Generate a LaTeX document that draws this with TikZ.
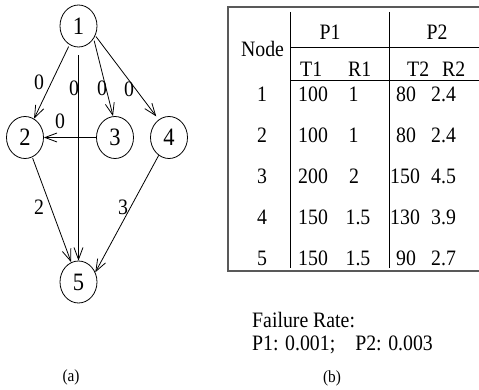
\documentclass[tikz,border=0pt]{standalone}
\usepackage{fontspec}
\setmainfont{Liberation Serif}[FakeStretch=0.9]
\usetikzlibrary{arrows.meta,shapes.geometric}

\begin{document}
\begin{tikzpicture}[x=1pt,y=-1pt,
  vert/.style={draw, ellipse, minimum width=37pt, minimum height=42pt, inner sep=0pt,
               font=\fontsize{25}{29}\selectfont, line width=0.8pt},
  edge/.style={draw, line width=0.8pt, -{Straight Barb[length=12pt,width=9pt]}},
  elabel/.style={font=\fontsize{22}{25}\selectfont, inner sep=0pt},
  cell/.style={font=\fontsize{22}{25}\selectfont, inner sep=0pt, anchor=base west},
  ccell/.style={font=\fontsize{22}{25}\selectfont, inner sep=0pt, anchor=base},
  rule/.style={line width=0.9pt},
  frame/.style={line width=1.3pt, draw=black!65},
  caption/.style={font=\fontsize{17}{20}\selectfont, inner sep=0pt}
]
\useasboundingbox (0,0) rectangle (479,390);

% ---------- (a) task graph ----------
\node[vert] (n1) at (78.5,26) {1};
\node[vert] (n2) at (25,137.5) {2};
\node[vert] (n3) at (115,137.5) {3};
\node[vert] (n4) at (169,137.5) {4};
\node[vert] (n5) at (78.5,282) {5};

\draw[edge, shorten <=2pt] (n1) -- (n2);
\draw[edge, shorten <=8pt] (n1) -- (n5);
\draw[edge, shorten <=2pt] (n1.-40) -- ([xshift=-2pt]n3.north);
\draw[edge, shorten <=1pt, shorten >=4pt] (n1.-30) -- (n4.120);
\draw[edge] (n3) -- (n2);
\draw[edge, shorten <=1pt] (n2) -- (n5);
\draw[edge] (n4.-120) -- (n5.30);

\node[elabel] (w12) at (39,82) {0};
\node[elabel] (w15) at (74,88) {0};
\node[elabel] (w13) at (102,88) {0};
\node[elabel] (w14) at (129,89) {0};
\node[elabel] (w32) at (60,121) {0};
\node[elabel] (w25) at (39,207) {2};
\node[elabel] (w45) at (123,207) {3};

\node[caption] (capa) at (71,377) {(a)};

% ---------- (b) execution table ----------
\draw[frame] (479,7) -- (228,7) -- (228,271) -- (479,271);
\draw[rule] (290,12) -- (290,268);
\draw[rule] (389,12) -- (389,268);
\draw[rule] (290,47) -- (479,47);
\draw[rule] (290,80) -- (479,80);

\node[ccell] (hnode) at (262.5,57) {Node};
\node[ccell] (hp1) at (330,40) {P1};
\node[ccell] (hp2) at (437,40) {P2};
\node[cell] (ht1) at (300,77) {T1};
\node[cell] (hr1) at (348,77) {R1};
\node[cell] (ht2) at (407,77) {T2};
\node[cell] (hr2) at (442,77) {R2};

% row 1
\node[ccell] (a1) at (262,102) {1};
\node[cell]  (b1) at (298,102) {100};
\node[ccell] (c1) at (353.5,102) {1};
\node[cell]  (d1) at (396,102) {80};
\node[cell]  (e1) at (431,102) {2.4};
% row 2
\node[ccell] (a2) at (262,143) {2};
\node[cell]  (b2) at (298,143) {100};
\node[ccell] (c2) at (353.5,143) {1};
\node[cell]  (d2) at (396,143) {80};
\node[cell]  (e2) at (431,143) {2.4};
% row 3
\node[ccell] (a3) at (262,184) {3};
\node[cell]  (b3) at (298,184) {200};
\node[ccell] (c3) at (354,184) {2};
\node[cell]  (d3) at (390,184) {150};
\node[cell]  (e3) at (431,184) {4.5};
% row 4
\node[ccell] (a4) at (262,225) {4};
\node[cell]  (b4) at (298,225) {150};
\node[ccell] (c4) at (358,225) {1.5};
\node[cell]  (d4) at (390,225) {130};
\node[cell]  (e4) at (431,225) {3.9};
% row 5
\node[ccell] (a5) at (262,265) {5};
\node[cell]  (b5) at (298,265) {150};
\node[ccell] (c5) at (358,265) {1.5};
\node[cell]  (d5) at (396,265) {90};
\node[cell]  (e5) at (431,265) {2.7};

\node[cell] (fr) at (252,327) {Failure Rate:};
\node[cell] (rates) at (252,350) {P1: 0.001;\hspace{20pt}P2: 0.003};

\node[caption] (capb) at (332,378) {(b)};
\end{tikzpicture}
\end{document}
